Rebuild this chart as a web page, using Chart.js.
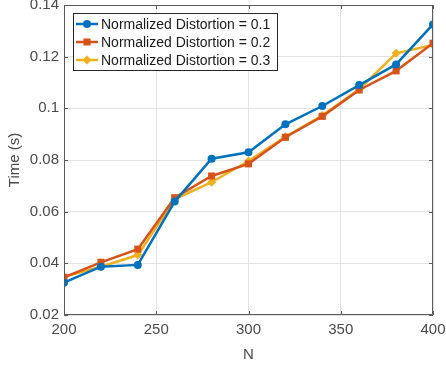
<!DOCTYPE html>
<html>
<head>
<meta charset="utf-8">
<script src="https://cdn.jsdelivr.net/npm/chart.js@4"></script>
<style>
  html, body { margin: 0; padding: 0; background: #fff; }
  #wrap { width: 446px; height: 368px; }
</style>
</head>
<body>
<div id="wrap"><canvas id="myChart" width="446" height="368"></canvas></div>
<script>
// data
const nValues = [200, 220, 240, 260, 280, 300, 320, 340, 360, 380, 400];
const labels = ["Normalized Distortion = 0.1", "Normalized Distortion = 0.2", "Normalized Distortion = 0.3"];
const time01 = [0.0325, 0.0387, 0.0394, 0.0639, 0.0805, 0.0830, 0.0938, 0.1009, 0.1090, 0.1170, 0.1325];
const time02 = [0.0346, 0.0404, 0.0455, 0.0654, 0.0738, 0.0785, 0.0888, 0.0969, 0.1071, 0.1145, 0.1252];
const time03 = [0.0348, 0.0387, 0.0432, 0.0648, 0.0714, 0.0796, 0.0890, 0.0972, 0.1074, 0.1213, 0.1245];
const colors = ["#0072BD", "#D95319", "#EDB120"];
const markers = ["circle", "rect", "rectRot"];
const markerSizes = [4, 5, 4.5];

const FONT = "'Liberation Sans', Arial, sans-serif";
const TEXT_COLOR = "#4a4a4a";
const AXIS_COLOR = "#5a5a5a";

function toPoints(arr) {
  return arr.map((v, i) => ({ x: nValues[i], y: v }));
}

// inward ticks, box and legend drawn inside the plot like matlab
const matlabBits = {
  id: "matlabBits",
  afterDraw(chart) {
    const ctx = chart.ctx;
    const area = chart.chartArea;
    const xs = chart.scales.x;
    const ys = chart.scales.y;
    ctx.save();
    ctx.strokeStyle = AXIS_COLOR;
    ctx.lineWidth = 1;
    ctx.beginPath();
    ctx.rect(area.left + 0.5, area.top + 0.5, area.right - area.left - 1, area.bottom - area.top - 1);
    ctx.stroke();
    ctx.beginPath();
    xs.ticks.forEach((t) => {
      const px = Math.round(xs.getPixelForValue(t.value)) + 0.5;
      ctx.moveTo(px, area.bottom);
      ctx.lineTo(px, area.bottom - 4);
      ctx.moveTo(px, area.top);
      ctx.lineTo(px, area.top + 4);
    });
    ys.ticks.forEach((t) => {
      const py = Math.round(ys.getPixelForValue(t.value)) + 0.5;
      ctx.moveTo(area.left, py);
      ctx.lineTo(area.left + 4, py);
      ctx.moveTo(area.right, py);
      ctx.lineTo(area.right - 4, py);
    });
    ctx.stroke();

    // legend
    const lx = 73, ly = 13, lw = 204, lh = 57;
    ctx.fillStyle = "#fff";
    ctx.fillRect(lx, ly, lw, lh);
    ctx.strokeStyle = "#262626";
    ctx.lineWidth = 1;
    ctx.strokeRect(lx + 0.5, ly + 0.5, lw, lh);
    ctx.font = "14px " + FONT;
    ctx.textBaseline = "middle";
    chart.data.datasets.forEach((ds, i) => {
      const cy = ly + 11 + i * 18;
      ctx.strokeStyle = ds.borderColor;
      ctx.lineWidth = 2.5;
      ctx.beginPath();
      ctx.moveTo(lx + 3, cy);
      ctx.lineTo(lx + 25, cy);
      ctx.stroke();
      ctx.fillStyle = ds.borderColor;
      ctx.lineWidth = 0;
      Chart.helpers.drawPoint(ctx, {
        pointStyle: ds.pointStyle,
        radius: ds.pointRadius,
        borderWidth: 0,
        rotation: 0
      }, lx + 14, cy);
      ctx.fillStyle = "#1a1a1a";
      ctx.fillText(ds.label, lx + 28, cy + 1);
    });
    ctx.restore();
  }
};

const myChart = document.querySelector("#myChart").getContext("2d");

new Chart(myChart, {
  type: "line",
  data: {
    datasets: [time01, time02, time03].map((arr, i) => ({
      label: labels[i],
      data: toPoints(arr),
      borderColor: colors[i],
      backgroundColor: colors[i],
      borderWidth: 2.5,
      pointStyle: markers[i],
      pointRadius: markerSizes[i],
      pointBorderWidth: 0,
      tension: 0
    }))
  },
  options: {
    responsive: false,
    animation: false,
    layout: { padding: { top: 5, right: 13, left: 2, bottom: 0 } },
    plugins: { legend: { display: false }, tooltip: { enabled: false } },
    scales: {
      x: {
        type: "linear",
        min: 200,
        max: 400,
        ticks: { stepSize: 50, color: TEXT_COLOR, font: { size: 15, family: FONT }, padding: 6, maxRotation: 0 },
        grid: { color: "#e3e3e3", drawTicks: false },
        border: { display: false },
        title: { display: true, text: "N", color: TEXT_COLOR, font: { size: 15, family: FONT }, padding: { top: 3 } },
        afterFit(scale) {
          scale.height = 53;
          scale.paddingLeft = 0;
          scale.paddingRight = 0;
        }
      },
      y: {
        min: 0.02,
        max: 0.14,
        ticks: {
          stepSize: 0.02,
          color: TEXT_COLOR,
          font: { size: 15, family: FONT },
          padding: 5,
          callback: (v) => String(parseFloat(v.toFixed(2)))
        },
        grid: { color: "#e3e3e3", drawTicks: false },
        border: { display: false },
        title: { display: true, text: "Time (s)", color: TEXT_COLOR, font: { size: 15, family: FONT }, padding: { bottom: 2 } },
        afterFit(scale) {
          scale.width = 62;
          scale.paddingTop = 0;
          scale.paddingBottom = 0;
        }
      }
    }
  },
  plugins: [matlabBits]
});
</script>
</body>
</html>
